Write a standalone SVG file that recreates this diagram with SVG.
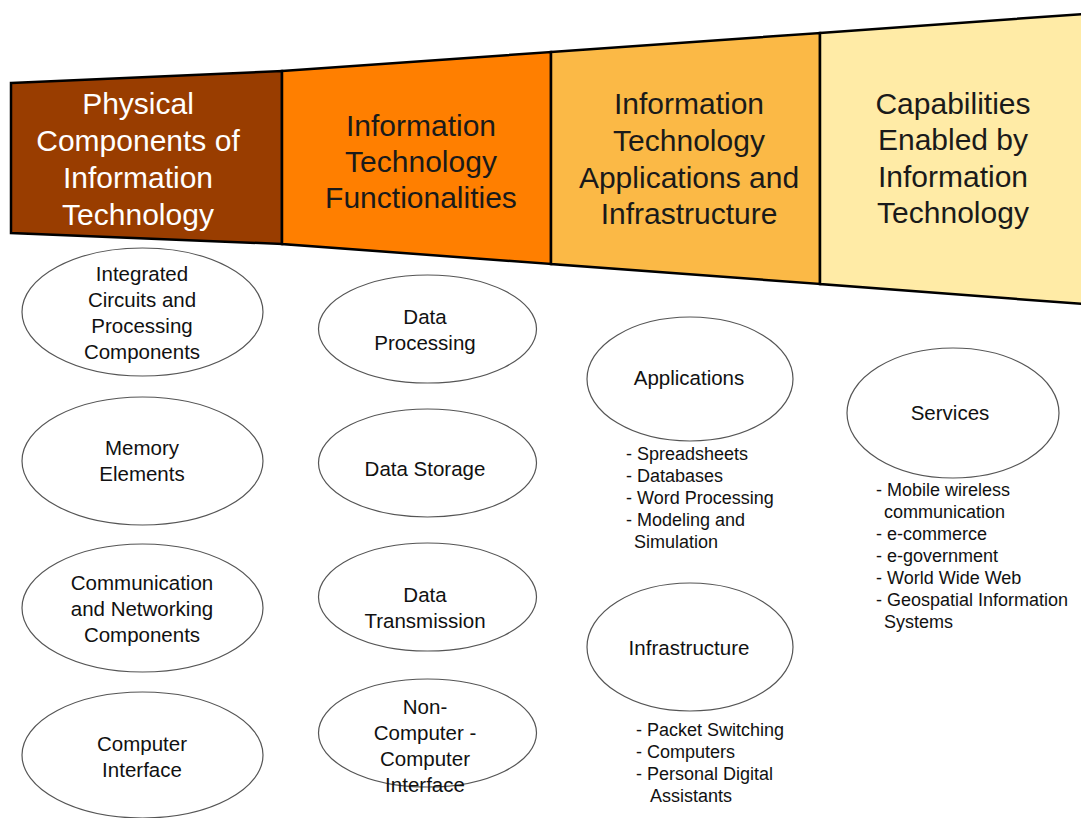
<svg xmlns="http://www.w3.org/2000/svg" width="1081" height="818" viewBox="0 0 1081 818">
  <style>
    .band { stroke: #000; stroke-width: 2.5; stroke-linejoin: miter; }
    .head { font-family: "Liberation Sans", Arial, sans-serif; font-size: 30px; text-anchor: middle; fill: #1a1a1a; }
    .head.light { fill: #ffffff; }
    .node ellipse { fill: #ffffff; stroke: #555; stroke-width: 1.2; }
    .lbl { font-family: "Liberation Sans", Arial, sans-serif; font-size: 20.5px; text-anchor: middle; fill: #111; }
    .list { font-family: "Liberation Sans", Arial, sans-serif; font-size: 18px; fill: #111; }
  </style>
  <rect width="1081" height="818" fill="#ffffff"/>

  <!-- widening header band, four stages -->
  <g id="band">
    <polygon class="band" fill="#993d00" points="11,83 282,71 282,244 11,233"/>
    <polygon class="band" fill="#ff7f00" points="282,71 551,52 551,264 282,244"/>
    <polygon class="band" fill="#fbb946" points="551,52 820,33 820,284 551,264"/>
    <polygon class="band" fill="#ffeba6" points="820,33 1083,14 1083,304 820,284"/>
  </g>

  <g id="head-physical">
    <text class="head light" x="138" y="114">Physical</text>
    <text class="head light" x="138" y="151">Components of</text>
    <text class="head light" x="138" y="188">Information</text>
    <text class="head light" x="138" y="225">Technology</text>
  </g>
  <g id="head-functionalities">
    <text class="head" x="421" y="136">Information</text>
    <text class="head" x="421" y="172">Technology</text>
    <text class="head" x="421" y="208">Functionalities</text>
  </g>
  <g id="head-applications">
    <text class="head" x="689" y="114">Information</text>
    <text class="head" x="689" y="151">Technology</text>
    <text class="head" x="689" y="188">Applications and</text>
    <text class="head" x="689" y="224">Infrastructure</text>
  </g>
  <g id="head-capabilities">
    <text class="head" x="953" y="114">Capabilities</text>
    <text class="head" x="953" y="150">Enabled by</text>
    <text class="head" x="953" y="187">Information</text>
    <text class="head" x="953" y="223">Technology</text>
  </g>

  <!-- column 1: physical components -->
  <g id="n-circuits" class="node">
    <ellipse cx="142.5" cy="312" rx="120.5" ry="64"/>
    <text class="lbl" x="142" y="281">Integrated</text>
    <text class="lbl" x="142" y="307">Circuits and</text>
    <text class="lbl" x="142" y="333">Processing</text>
    <text class="lbl" x="142" y="359">Components</text>
  </g>
  <g id="n-memory" class="node">
    <ellipse cx="142.5" cy="461" rx="120.5" ry="64"/>
    <text class="lbl" x="142" y="455">Memory</text>
    <text class="lbl" x="142" y="481">Elements</text>
  </g>
  <g id="n-networking" class="node">
    <ellipse cx="142.5" cy="608" rx="120.5" ry="64"/>
    <text class="lbl" x="142" y="590">Communication</text>
    <text class="lbl" x="142" y="616">and Networking</text>
    <text class="lbl" x="142" y="642">Components</text>
  </g>
  <g id="n-interface" class="node">
    <ellipse cx="142.5" cy="755" rx="120.5" ry="63"/>
    <text class="lbl" x="142" y="751">Computer</text>
    <text class="lbl" x="142" y="777">Interface</text>
  </g>

  <!-- column 2: functionalities -->
  <g id="n-processing" class="node">
    <ellipse cx="427.5" cy="329" rx="109" ry="54"/>
    <text class="lbl" x="425" y="324">Data</text>
    <text class="lbl" x="425" y="350">Processing</text>
  </g>
  <g id="n-storage" class="node">
    <ellipse cx="427.5" cy="463" rx="109" ry="54"/>
    <text class="lbl" x="425" y="476">Data Storage</text>
  </g>
  <g id="n-transmission" class="node">
    <ellipse cx="427.5" cy="597" rx="109" ry="54"/>
    <text class="lbl" x="425" y="602">Data</text>
    <text class="lbl" x="425" y="628">Transmission</text>
  </g>
  <g id="n-noncomputer" class="node">
    <ellipse cx="427.5" cy="733" rx="109" ry="54"/>
    <text class="lbl" x="425" y="714">Non-</text>
    <text class="lbl" x="425" y="740">Computer -</text>
    <text class="lbl" x="425" y="766">Computer</text>
    <text class="lbl" x="425" y="792">Interface</text>
  </g>

  <!-- column 3: applications and infrastructure -->
  <g id="n-applications" class="node">
    <ellipse cx="690" cy="379" rx="103" ry="62"/>
    <text class="lbl" x="689" y="385">Applications</text>
    <text class="list" x="626" y="460">- Spreadsheets</text>
    <text class="list" x="626" y="482">- Databases</text>
    <text class="list" x="626" y="504">- Word Processing</text>
    <text class="list" x="626" y="526">- Modeling and</text>
    <text class="list" x="634" y="548">Simulation</text>
  </g>
  <g id="n-infrastructure" class="node">
    <ellipse cx="690" cy="647" rx="103" ry="64"/>
    <text class="lbl" x="689" y="655">Infrastructure</text>
    <text class="list" x="636" y="736">- Packet Switching</text>
    <text class="list" x="636" y="758">- Computers</text>
    <text class="list" x="636" y="780">- Personal Digital</text>
    <text class="list" x="650" y="802">Assistants</text>
  </g>

  <!-- column 4: capabilities -->
  <g id="n-services" class="node">
    <ellipse cx="953" cy="413" rx="106" ry="65"/>
    <text class="lbl" x="950" y="420">Services</text>
    <text class="list" x="876" y="496">- Mobile wireless</text>
    <text class="list" x="884" y="518">communication</text>
    <text class="list" x="876" y="540">- e-commerce</text>
    <text class="list" x="876" y="562">- e-government</text>
    <text class="list" x="876" y="584">- World Wide Web</text>
    <text class="list" x="876" y="606">- Geospatial Information</text>
    <text class="list" x="884" y="628">Systems</text>
  </g>

  <g id="connectors"/>
</svg>
